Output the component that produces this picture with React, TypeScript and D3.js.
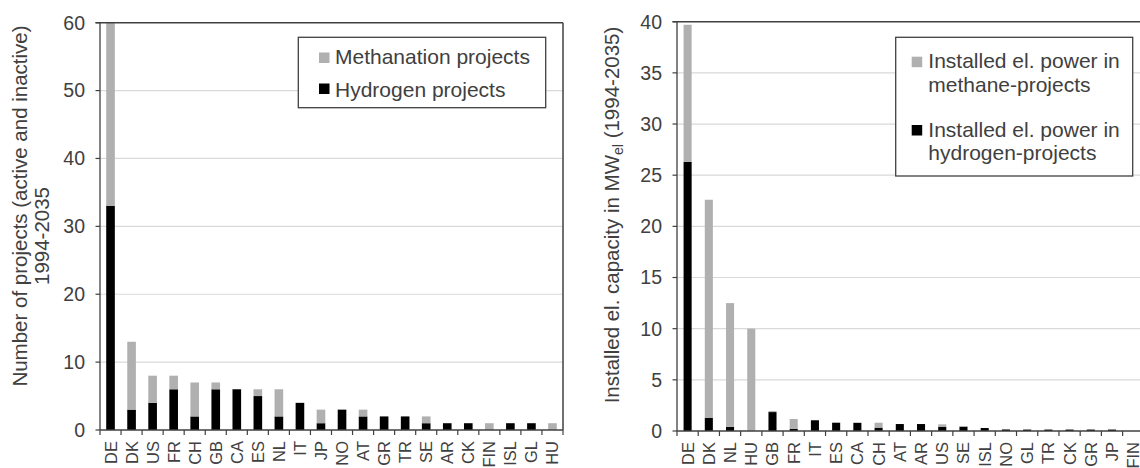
import React from "react";
import * as d3 from "d3";

const countriesLeft = ["DE","DK","US","FR","CH","GB","CA","ES","NL","IT","JP","NO","AT","GR","TR","SE","AR","CK","FIN","ISL","GL","HU"];
const hydrogenProjects = [33,3,4,6,2,6,6,5,2,4,1,3,2,2,2,1,1,1,0,1,1,0];
const methanationProjects = [27,10,4,2,5,1,0,1,4,0,2,0,1,0,0,1,0,0,1,0,0,1];
const leftTicks = [0,10,20,30,40,50,60];

const countriesRight = ["DE","DK","NL","HU","GB","FR","IT","ES","CA","CH","AT","AR","US","SE","ISL","NO","GL","TR","CK","GR","JP","FIN"];
const hydrogenPower = [26.3,1.3,0.4,0,1.85,0.2,1.05,0.8,0.8,0.33,0.68,0.68,0.42,0.42,0.29,0.15,0.14,0.14,0.14,0.14,0.14,0];
const methanePower = [13.4,21.3,12.1,10.0,0.1,0.97,0,0.08,0,0.48,0,0,0.23,0.07,0,0,0,0,0,0,0,0];
const rightTicks = [0,5,10,15,20,25,30,35,40];

const FONT = "'Liberation Sans', Arial, Helvetica, sans-serif";
const TEXT = "#404040";
const AXIS = "#404040";
const GRID = "#d9d9d9";
const GREY = "#b0b0b0";
const BLACK = "#000000";

type PanelProps = {
  cats: string[];
  h: number[];
  m: number[];
  ticks: number[];
  x0: number; x1: number; yTop: number; yBot: number; max: number;
  barFrac: number;
};

function Panel({ cats, h, m, ticks, x0, x1, yTop, yBot, max, barFrac }: PanelProps) {
  const x = d3.scaleBand<string>().domain(cats).range([x0, x1]).padding(0);
  const y = d3.scaleLinear().domain([0, max]).range([yBot, yTop]);
  const rows = cats.map((c, i) => ({ c, h: h[i], m: m[i] }));
  const stack = d3.stack<any>().keys(["h", "m"])(rows);
  const bw = x.bandwidth() * barFrac;
  const colors = [BLACK, GREY];
  return (
    <g>
      {ticks.filter(t => t > 0 && t < max).map(t => (
        <line key={"g" + t} x1={x0} x2={x1} y1={y(t)} y2={y(t)} stroke={GRID} strokeWidth={1.2} />
      ))}
      {stack.map((s, si) => (
        <g key={si} fill={colors[si]}>
          {s.map((d, i) => {
            const hgt = y(d[0]) - y(d[1]);
            if (hgt <= 0) return null;
            const cx = (x(cats[i]) as number) + x.bandwidth() / 2;
            return <rect key={i} x={cx - bw / 2} y={y(d[1])} width={bw} height={hgt} />;
          })}
        </g>
      ))}
      {/* frame */}
      <line x1={x0 - 4.5} x2={x1} y1={yTop} y2={yTop} stroke={AXIS} strokeWidth={1.5} />
      <line x1={x1} x2={x1} y1={yTop} y2={yBot} stroke={AXIS} strokeWidth={1.5} />
      <line x1={x0} x2={x0} y1={yTop} y2={yBot} stroke={AXIS} strokeWidth={1.3} />
      <line x1={x0} x2={x1} y1={yBot} y2={yBot} stroke={AXIS} strokeWidth={1.3} />
      {ticks.map(t => (
        <g key={"t" + t}>
          <line x1={x0 - 4.5} x2={x0} y1={y(t)} y2={y(t)} stroke={AXIS} strokeWidth={1.2} />
          <text x={x0 - 15} y={y(t)} dy="0.35em" textAnchor="end" fontSize={19.5} fill={TEXT}>{t}</text>
        </g>
      ))}
      {d3.range(cats.length + 1).map(i => {
        const xx = x0 + i * x.bandwidth();
        return <line key={"xt" + i} x1={xx} x2={xx} y1={yBot} y2={yBot + 5} stroke={AXIS} strokeWidth={1.2} />;
      })}
      {cats.map(c => {
        const cx = (x(c) as number) + x.bandwidth() / 2;
        return (
          <text key={"l" + c} transform={`translate(${cx + 6},${yBot + 11}) rotate(-90)`} textAnchor="end" fontSize={16.5} fill={TEXT}>{c}</text>
        );
      })}
    </g>
  );
}

export default function App() {
  return (
    <div style={{ position: "absolute", left: 0, top: 0 }}>
      <svg width={1140} height={468} style={{ display: "block", fontFamily: FONT }}>
        <rect width={1140} height={468} fill="#ffffff" />
        <Panel cats={countriesLeft} h={hydrogenProjects} m={methanationProjects} ticks={leftTicks}
          x0={100} x1={563} yTop={22.7} yBot={430} max={60} barFrac={0.41} />
        <Panel cats={countriesRight} h={hydrogenPower} m={methanePower} ticks={rightTicks}
          x0={677} x1={677 + 22 * 21.22} yTop={21.7} yBot={431} max={40} barFrac={0.38} />

        {/* left y title */}
        <text transform="translate(27,206) rotate(-90)" textAnchor="middle" fontSize={20.5} fill={TEXT}>Number of projects (active and inactive)</text>
        <text transform="translate(49,236) rotate(-90)" textAnchor="middle" fontSize={20.5} fill={TEXT}>1994-2035</text>

        {/* right y title */}
        <text transform="translate(619,215) rotate(-90)" textAnchor="middle" fontSize={20.5} fill={TEXT}>
          Installed  el. capacity in MW<tspan fontSize={14} dy={4}>el</tspan><tspan dy={-4}> (1994-2035)</tspan>
        </text>

        {/* left legend */}
        <rect x={298.3} y={37.3} width={247.4} height={70.4} fill="#ffffff" stroke={AXIS} strokeWidth={1.3} />
        <rect x={319} y={52.5} width={10.5} height={10.5} fill={GREY} />
        <text x={335} y={64.3} fontSize={21} fill={TEXT}>Methanation projects</text>
        <rect x={319} y={83.5} width={10.5} height={10.5} fill={BLACK} />
        <text x={335} y={96.7} fontSize={21} fill={TEXT}>Hydrogen projects</text>

        {/* right legend */}
        <rect x={895.7} y={37.3} width={237} height={138.7} fill="#ffffff" stroke={AXIS} strokeWidth={1.3} />
        <rect x={911.7} y={56.7} width={10.5} height={10.5} fill={GREY} />
        <text x={928.3} y={68.3} fontSize={21} fill={TEXT}>Installed el. power in</text>
        <text x={928.3} y={91.7} fontSize={21} fill={TEXT}>methane-projects</text>
        <rect x={911.7} y={125} width={10.5} height={10.5} fill={BLACK} />
        <text x={928.3} y={136.7} fontSize={21} fill={TEXT}>Installed el. power in</text>
        <text x={928.3} y={160} fontSize={21} fill={TEXT}>hydrogen-projects</text>
      </svg>
    </div>
  );
}
